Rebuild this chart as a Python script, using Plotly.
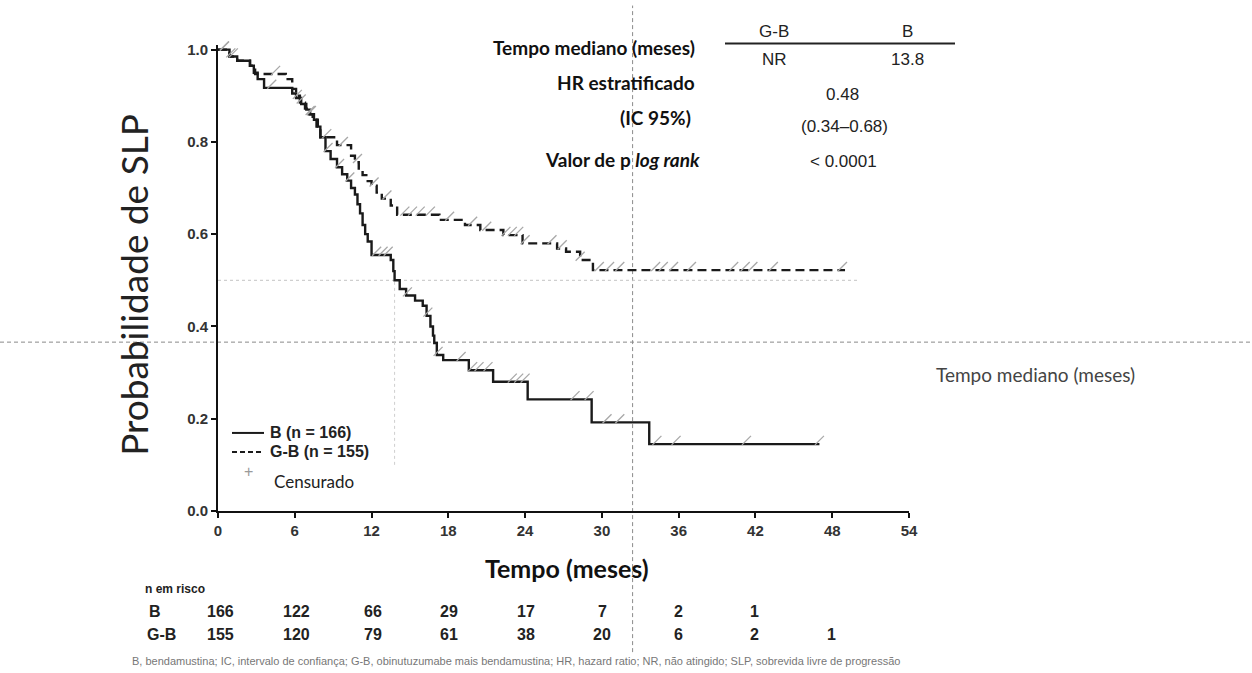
import numpy as np
import plotly.graph_objects as go

# ---- Kaplan-Meier step estimates (time in months, survival probability) ----
b_times = [0, 0.9, 1.5, 2.5, 2.8, 3.1, 3.6, 5.8, 6.1, 6.5, 6.9, 7.2, 7.5, 7.8, 8.0,
           8.4, 8.8, 9.3, 9.7, 10.1, 10.4, 10.7, 10.9, 11.1, 11.3, 11.5, 11.7, 12.0,
           13.5, 13.7, 13.8, 14.2, 14.7, 15.4, 16.0, 16.3, 16.6, 16.8, 16.9, 17.1,
           17.6, 19.6, 21.5, 24.2, 29.2, 33.7]
b_surv = [1.0, 0.985, 0.976, 0.965, 0.950, 0.936, 0.917, 0.905, 0.895, 0.882, 0.870,
          0.860, 0.848, 0.833, 0.810, 0.780, 0.763, 0.745, 0.730, 0.716, 0.700, 0.686,
          0.665, 0.645, 0.620, 0.600, 0.584, 0.555, 0.544, 0.520, 0.500, 0.481, 0.467,
          0.456, 0.445, 0.423, 0.400, 0.380, 0.364, 0.338, 0.327, 0.305, 0.280, 0.242,
          0.192, 0.145]
b_end = 47.0

gb_times = [0, 0.9, 1.5, 2.5, 2.9, 5.3, 5.8, 6.1, 6.4, 6.8, 7.1, 7.4, 7.7, 8.0, 9.3,
            10.4, 10.7, 11.0, 11.3, 11.7, 12.0, 12.4, 12.8, 13.5, 14.0, 17.3, 19.3,
            20.5, 22.3, 23.8, 26.5, 27.2, 28.3, 29.3]
gb_surv = [1.0, 0.985, 0.976, 0.965, 0.947, 0.936, 0.915, 0.900, 0.885, 0.872, 0.860,
           0.848, 0.833, 0.810, 0.793, 0.770, 0.756, 0.742, 0.728, 0.715, 0.705, 0.690,
           0.677, 0.662, 0.642, 0.631, 0.620, 0.609, 0.598, 0.580, 0.569, 0.562, 0.544,
           0.522]
gb_end = 49.0

# censoring times
b_censor = [0.5, 1.2, 4.2, 6.2, 7.3, 8.6, 9.5, 10.3, 12.4, 12.9, 13.3, 14.8, 16.4,
            17.2, 19.0, 19.9, 20.4, 21.1, 23.0, 23.5, 24.0, 27.9, 29.0, 30.4, 31.4,
            34.3, 35.8, 41.3, 47.0]
gb_censor = [0.5, 1.0, 4.5, 6.5, 7.2, 8.5, 9.8, 10.9, 12.2, 13.2, 14.6, 15.2, 15.8,
             16.6, 18.1, 19.9, 21.0, 22.5, 23.0, 23.5, 24.0, 26.1, 26.9, 28.3, 29.8,
             30.6, 31.4, 34.2, 34.8, 35.6, 37.0, 40.3, 41.2, 41.8, 43.4, 48.8]

x_ticks = [0, 6, 12, 18, 24, 30, 36, 42, 48, 54]
y_ticks = [0.0, 0.2, 0.4, 0.6, 0.8, 1.0]
y_tick_text = ["0.0", "0.2", "0.4", "0.6", "0.8", "1.0"]

median_gb_label = "NR"
median_b = 13.8
hr_text = "0.48"
ci_text = "(0.34\u20130.68)"
p_text = "< 0.0001"

risk_groups = ["B", "G-B"]
risk_b = [166, 122, 66, 29, 17, 7, 2, 1]
risk_gb = [155, 120, 79, 61, 38, 20, 6, 2, 1]

ref_x = 32.4      # crosshair guide (months)
ref_y = 0.366     # crosshair guide (probability)

footnote = ("B, bendamustina; IC, intervalo de confiança; G-B, obinutuzumabe mais "
            "bendamustina; HR, hazard ratio; NR, não atingido; SLP, sobrevida livre "
            "de progressão")

# ---- page geometry (pixels) ----
W, H = 1252, 673
PL, PR = 218, 909          # x = 0 .. 54
PB = 511                   # y = 0
PX_PER_UNIT_Y = 461
Y_TOP = 1.01
PT = PB - PX_PER_UNIT_Y * Y_TOP


def fx(px):
    return (px - PL) / (PR - PL)


def fy(py):
    return (PB - py) / (PB - PT)


def step_xy(times, surv, t_end):
    xs = list(times) + [t_end]
    ys = list(surv) + [surv[-1]]
    return xs, ys


def step_at(times, surv, t):
    i = np.searchsorted(np.asarray(times), np.asarray(t), side="right") - 1
    return np.asarray(surv)[i]


CALIBRI = "Lato, 'Open Sans', sans-serif"
ARIAL = "'Liberation Sans', Arial, sans-serif"

fig = go.Figure()

bx, by = step_xy(b_times, b_surv, b_end)
gx, gy = step_xy(gb_times, gb_surv, gb_end)

fig.add_trace(go.Scatter(x=gx, y=gy, mode="lines", line_shape="hv",
                         line=dict(color="#1a1a1a", width=2.4, dash="9px,5px"),
                         showlegend=False, hoverinfo="skip"))
fig.add_trace(go.Scatter(x=bx, y=by, mode="lines", line_shape="hv",
                         line=dict(color="#1a1a1a", width=2.4),
                         showlegend=False, hoverinfo="skip"))

censor_marker = dict(symbol="line-ne", size=9, line=dict(color="#a8a8a8", width=1.3))
fig.add_trace(go.Scatter(x=b_censor, y=step_at(b_times, b_surv, b_censor) + 0.008,
                         mode="markers", marker=censor_marker, showlegend=False,
                         cliponaxis=False, hoverinfo="skip"))
fig.add_trace(go.Scatter(x=gb_censor, y=step_at(gb_times, gb_surv, gb_censor) + 0.008,
                         mode="markers", marker=censor_marker, showlegend=False,
                         cliponaxis=False, hoverinfo="skip"))

shapes = []
# crosshair guides spanning the page
shapes.append(dict(type="line", xref="paper", yref="y", x0=fx(0), x1=fx(W),
                   y0=ref_y, y1=ref_y, line=dict(color="#8a8a8a", width=1, dash="4px,3px"),
                   layer="below"))
shapes.append(dict(type="line", xref="x", yref="paper", x0=ref_x, x1=ref_x,
                   y0=fy(652), y1=fy(6), line=dict(color="#8a8a8a", width=1, dash="4px,3px"),
                   layer="below"))
# median guides
shapes.append(dict(type="line", xref="x", yref="y", x0=0, x1=50, y0=0.5, y1=0.5,
                   line=dict(color="#c4c4c4", width=1, dash="3px,3px"), layer="below"))
shapes.append(dict(type="line", xref="x", yref="y", x0=median_b, x1=median_b,
                   y0=0.1, y1=0.5, line=dict(color="#cfcfcf", width=1, dash="3px,3px"),
                   layer="below"))
# summary table rule
shapes.append(dict(type="line", xref="paper", yref="paper", x0=fx(725), x1=fx(955),
                   y0=fy(44), y1=fy(44), line=dict(color="#222", width=2)))
# legend samples
shapes.append(dict(type="line", xref="paper", yref="paper", x0=fx(232), x1=fx(264),
                   y0=fy(433), y1=fy(433), line=dict(color="#1a1a1a", width=2)))
shapes.append(dict(type="line", xref="paper", yref="paper", x0=fx(232), x1=fx(264),
                   y0=fy(452), y1=fy(452), line=dict(color="#1a1a1a", width=2, dash="5px,3px")))

ann = []


def text(px, py, s, size, family=ARIAL, color="#222", anchor="center", weight="normal",
         angle=0):
    ann.append(dict(xref="paper", yref="paper", x=fx(px), y=fy(py), text=s,
                    showarrow=False, xanchor=anchor, yanchor="middle", textangle=angle,
                    font=dict(family=family, size=size, color=color, weight=weight)))


# statistics block
text(697, 48, "Tempo mediano (meses)", 19, CALIBRI, "#111", "right", "bold")
text(697, 83, "HR estratificado", 19, CALIBRI, "#111", "right", "bold")
text(693, 118, "(IC 95%)", 19, CALIBRI, "#111", "right", "bold")
text(702, 160, "Valor de p <i>log rank</i>", 19, CALIBRI, "#111", "right", "bold")
text(774, 32, "G-B", 17, ARIAL, "#222", "center")
text(907, 32, risk_groups[0], 17, ARIAL, "#222", "center")
text(774, 60, median_gb_label, 17, ARIAL, "#222", "center")
text(907, 60, f"{median_b}", 17, ARIAL, "#222", "center")
text(842, 95, hr_text, 17, ARIAL, "#222", "center")
text(844, 127, ci_text, 17, ARIAL, "#222", "center")
text(843, 162, p_text, 17, ARIAL, "#222", "center")

# legend
text(268, 433, "B (n = 166)", 16, ARIAL, "#222", "left", "bold")
text(268, 452, "G-B (n = 155)", 16, ARIAL, "#222", "left", "bold")
text(248, 472, "+", 16, ARIAL, "#9a9a9a", "center")
text(272, 482, "Censurado", 17, CALIBRI, "#222", "left")

# axis titles
text(134, 285, "Probabilidade de SLP", 37, CALIBRI, "#222", "center", "normal", -90)
text(567, 568, "Tempo (meses)", 25, CALIBRI, "#111", "center", "bold")
text(1035, 375, "Tempo mediano (meses)", 19, CALIBRI, "#444", "center")

# number at risk table
text(143, 589, "n em risco", 12, ARIAL, "#222", "left", "bold")
text(155, 611, risk_groups[0], 16, ARIAL, "#222", "center", "bold")
text(161, 634, risk_groups[1], 16, ARIAL, "#222", "center", "bold")
for i, n in enumerate(risk_b):
    text(220 + 76.4 * i, 611, str(n), 16, ARIAL, "#222", "center", "bold")
for i, n in enumerate(risk_gb):
    text(220 + 76.4 * i, 634, str(n), 16, ARIAL, "#222", "center", "bold")

text(130, 661, footnote, 11, ARIAL, "#777", "left")

axis_font = dict(family=ARIAL, size=15, color="#333", weight="bold")
fig.update_layout(
    width=W, height=H,
    margin=dict(l=PL, r=W - PR, t=PT, b=H - PB),
    paper_bgcolor="white", plot_bgcolor="white",
    showlegend=False,
    shapes=shapes, annotations=ann,
    xaxis=dict(range=[0, 54], tickvals=x_ticks, ticktext=[str(v) for v in x_ticks],
               showline=True, linecolor="#111", linewidth=2, ticks="outside",
               ticklen=5, tickwidth=1.5, tickcolor="#111", showgrid=False,
               zeroline=False, tickfont=axis_font, fixedrange=True),
    yaxis=dict(range=[0, Y_TOP], tickvals=y_ticks, ticktext=y_tick_text,
               showline=True, linecolor="#111", linewidth=2, ticks="outside",
               ticklen=5, tickwidth=1.5, tickcolor="#111", showgrid=False,
               zeroline=False, tickfont=axis_font, fixedrange=True),
)

fig.write_html("out.html")
